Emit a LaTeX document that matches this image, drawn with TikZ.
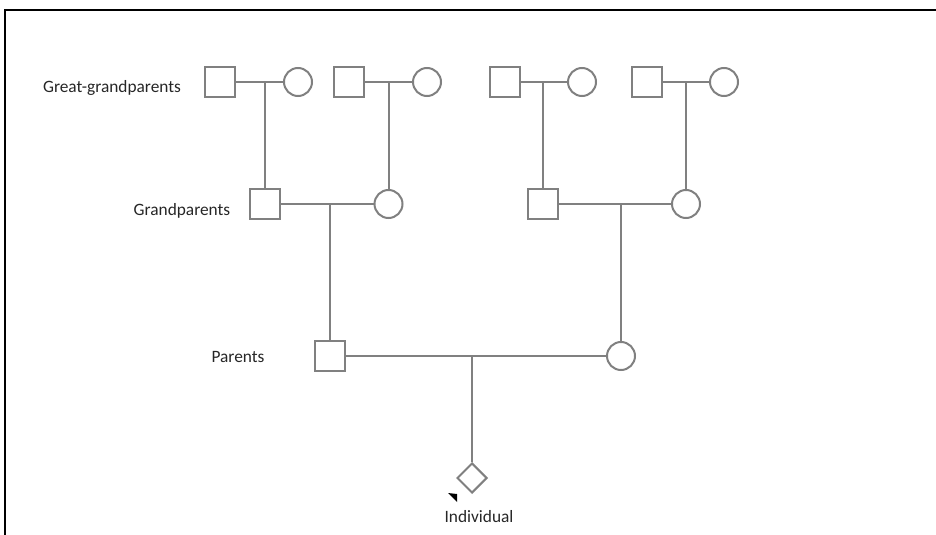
\documentclass[tikz,border=0pt]{standalone}
\usepackage{fontspec}
\setmainfont{Carlito}
\usetikzlibrary{shapes.geometric}
\definecolor{linegray}{RGB}{128,128,128}

\tikzset{every picture/.style={line width=0.75pt}}
\tikzset{
	male/.style={draw=linegray, line width=1.5pt, rectangle, minimum size=22.5pt, inner sep=0pt},
	female/.style={draw=linegray, line width=1.5pt, circle, minimum size=21pt, inner sep=0pt},
	unknown/.style={draw=linegray, line width=1.5pt, diamond, minimum size=22.5pt, inner sep=0pt},
	link/.style={draw=linegray, line width=1.5pt},
	gen/.style={font=\fontsize{13}{15}\selectfont, text=black!85}
}

\begin{document}
\begin{tikzpicture}[x=0.75pt,y=0.75pt,yscale=-1,xscale=1]
	\useasboundingbox (0,0) rectangle (936,535);

	%Frame
	\draw [line width=1.5pt] (5,535) -- (5,10) -- (936,10) ;

	%Shape: great-grandparents
	\node [male] (gg1m) at (220,82) {};
	\node [female] (gg1f) at (298,82) {};
	\node [male] (gg2m) at (349,82) {};
	\node [female] (gg2f) at (427,82) {};
	\node [male] (gg3m) at (504.5,82) {};
	\node [female] (gg3f) at (582,82) {};
	\node [male] (gg4m) at (647,82) {};
	\node [female] (gg4f) at (724,82) {};
	%Shape: grandparents
	\node [male] (gp1m) at (265,204) {};
	\node [female] (gp1f) at (388.5,204) {};
	\node [male] (gp2m) at (543,204) {};
	\node [female] (gp2f) at (686,204) {};
	%Shape: parents
	\node [male] (pm) at (330,356) {};
	\node [female] (pf) at (621,356) {};
	%Shape: Diamond
	\node [unknown] (ind) at (472,478) {};

	%Straight Lines: couples
	\draw [link] (gg1m) -- (gg1f) ;
	\draw [link] (gg2m) -- (gg2f) ;
	\draw [link] (gg3m) -- (gg3f) ;
	\draw [link] (gg4m) -- (gg4f) ;
	\draw [link] (gp1m) -- (gp1f) ;
	\draw [link] (gp2m) -- (gp2f) ;
	\draw [link] (pm) -- (pf) ;
	%Straight Lines: descent
	\draw [link] (gp1m.north) -- (gp1m.north |- gg1m.east) ;
	\draw [link] (gp1f.north) -- (gp1f.north |- gg2m.east) ;
	\draw [link] (gp2m.north) -- (gp2m.north |- gg3m.east) ;
	\draw [link] (gp2f.north) -- (gp2f.north |- gg4m.east) ;
	\draw [link] (pm.north) -- (pm.north |- gp1m.east) ;
	\draw [link] (pf.north) -- (pf.north |- gp2m.east) ;
	\draw [link] (ind.north) -- (ind.north |- pm.east) ;

	%Shape: Triangle
	\fill (448,493) -- (457,494) -- (457,502) -- cycle ;

	% Text Node
	\node [gen] (lblgg) at (112,88) {Great-grandparents};
	% Text Node
	\node [gen] (lblgp) at (182,211) {Grandparents};
	% Text Node
	\node [gen] (lblp) at (238,357) {Parents};
	% Text Node
	\node [gen] (lblind) at (479,517) {Individual};

\end{tikzpicture}
\end{document}
